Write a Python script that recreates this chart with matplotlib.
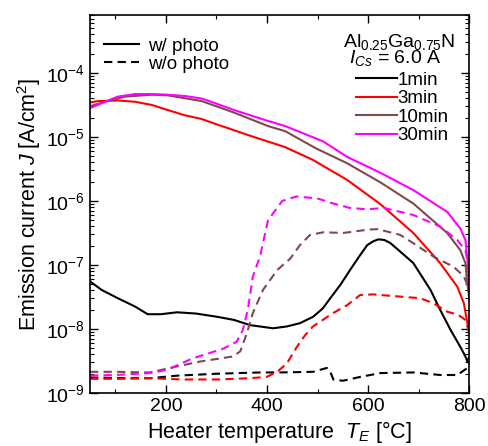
import numpy as np
import matplotlib.pyplot as plt
from matplotlib.lines import Line2D
from matplotlib.ticker import MultipleLocator, LogLocator, NullFormatter

plt.rcParams['font.family'] = ['Liberation Sans', 'DejaVu Sans']
plt.rcParams['mathtext.fontset'] = 'custom'
plt.rcParams['mathtext.rm'] = 'Liberation Sans'
plt.rcParams['mathtext.it'] = 'Liberation Sans:italic'

# w/ photo (log10 J)
t_1 = [50, 54, 73, 105, 139, 164, 190, 222, 260, 301, 335, 366, 412, 440, 465, 491, 510, 525, 545, 564, 581, 598, 610, 620, 632, 644, 663, 689, 723, 742, 763, 782, 792, 796, 800]
j_1 = [-7.25, -7.28, -7.39, -7.52, -7.65, -7.77, -7.77, -7.74, -7.76, -7.81, -7.86, -7.94, -7.99, -7.96, -7.91, -7.81, -7.68, -7.52, -7.31, -7.08, -6.88, -6.69, -6.63, -6.60, -6.61, -6.66, -6.79, -6.97, -7.39, -7.70, -8.02, -8.28, -8.43, -8.51, -8.43]

t_3 = [50, 66, 105, 139, 172, 204, 237, 271, 303, 370, 436, 491, 558, 624, 689, 742, 776, 789, 796, 800]
j_3 = [-4.46, -4.44, -4.43, -4.45, -4.50, -4.58, -4.66, -4.72, -4.81, -4.99, -5.16, -5.36, -5.67, -6.05, -6.50, -6.97, -7.34, -7.60, -7.91, -8.07]

t_10 = [50, 80, 119, 172, 204, 271, 335, 402, 436, 497, 558, 624, 689, 756, 782, 792, 796, 800]
j_10 = [-4.52, -4.45, -4.37, -4.34, -4.35, -4.44, -4.62, -4.83, -4.91, -5.18, -5.41, -5.71, -6.04, -6.50, -6.77, -6.97, -7.29, -7.55]

t_30 = [50, 80, 105, 139, 172, 204, 237, 271, 293, 335, 402, 436, 511, 558, 624, 689, 756, 782, 792, 796, 800]
j_30 = [-4.55, -4.45, -4.37, -4.33, -4.33, -4.34, -4.36, -4.40, -4.46, -4.58, -4.75, -4.83, -5.07, -5.31, -5.56, -5.83, -6.17, -6.43, -6.61, -6.92, -7.39]

# w/o photo (log10 J)
td_1 = [50, 120, 168, 222, 301, 386, 426, 491, 518, 524, 531, 550, 584, 624, 689, 743, 776, 796, 800]
jd_1 = [-8.76, -8.77, -8.77, -8.73, -8.70, -8.68, -8.68, -8.67, -8.61, -8.65, -8.79, -8.81, -8.75, -8.69, -8.68, -8.72, -8.72, -8.61, -8.53]

td_3 = [50, 100, 168, 234, 303, 366, 399, 420, 439, 459, 475, 491, 531, 558, 584, 610, 624, 703, 729, 756, 778, 792, 800]
jd_3 = [-8.78, -8.78, -8.77, -8.79, -8.79, -8.77, -8.75, -8.67, -8.54, -8.28, -8.10, -7.96, -7.75, -7.63, -7.47, -7.46, -7.47, -7.52, -7.60, -7.73, -7.78, -7.86, -8.07]

td_10 = [50, 100, 168, 208, 267, 333, 347, 360, 372, 392, 420, 446, 465, 485, 511, 551, 598, 618, 663, 689, 729, 769, 789, 800]
jd_10 = [-8.67, -8.67, -8.68, -8.61, -8.51, -8.43, -8.35, -8.07, -7.75, -7.39, -7.08, -6.90, -6.69, -6.53, -6.49, -6.50, -6.45, -6.44, -6.53, -6.66, -6.87, -7.03, -7.18, -7.39]

td_30 = [50, 100, 168, 202, 253, 313, 340, 352, 362, 372, 386, 402, 430, 458, 499, 531, 564, 598, 631, 663, 689, 742, 776, 792, 800]
jd_30 = [-8.73, -8.72, -8.69, -8.64, -8.46, -8.31, -8.20, -8.02, -7.70, -7.18, -6.87, -6.30, -6.00, -5.93, -5.96, -6.04, -6.11, -6.13, -6.11, -6.17, -6.22, -6.40, -6.61, -6.77, -7.10]

colors = ['black', '#ff0000', '#7f4a4a', '#ff00ff']
labels = ['1min', '3min', '10min', '30min']
solid = [(t_1, j_1), (t_3, j_3), (t_10, j_10), (t_30, j_30)]
dashed = [(td_1, jd_1), (td_3, jd_3), (td_10, jd_10), (td_30, jd_30)]

fig = plt.figure(figsize=(4.89, 4.46), dpi=100)
ax = fig.add_axes([0.184, 0.119, 0.776, 0.847])

handles = []
for (x, y), c, lab in zip(solid, colors, labels):
    h, = ax.plot(x, 10**np.array(y), color=c, lw=1.5, label=lab)
    handles.append(h)
for (x, y), c in zip(dashed, colors):
    ax.plot(x, 10**np.array(y), color=c, lw=1.5, ls=(0, (4, 2.5)))

ax.set_yscale('log')
ax.set_xlim(50, 800)
ax.set_ylim(1e-9, 8e-4)
ax.xaxis.set_major_locator(MultipleLocator(200))
ax.xaxis.set_minor_locator(MultipleLocator(100))
ax.yaxis.set_major_locator(LogLocator(base=10, numticks=20))
ax.yaxis.set_minor_locator(LogLocator(base=10, subs=np.arange(2, 10), numticks=20))
ax.yaxis.set_minor_formatter(NullFormatter())
ax.tick_params(which='both', direction='in', top=True, right=True, labelsize=14)
ax.tick_params(which='major', length=6, width=1)
ax.tick_params(which='minor', length=3, width=0.8)
for s in ax.spines.values():
    s.set_linewidth(1.2)

ax.set_xlabel('Heater temperature  $T_E$ [°C]', fontsize=15.5, labelpad=3)
ax.set_ylabel('Emission current $J$ [A/cm$^2$]', fontsize=15.5, labelpad=2)

leg1 = ax.legend(handles=[Line2D([], [], color='black', lw=1.5),
                          Line2D([], [], color='black', lw=1.5, ls=(0, (4, 2.5)))],
                 labels=['w/ photo', 'w/o photo'], loc='upper left', frameon=False,
                 fontsize=13.5, handlelength=1.9, handletextpad=0.45, labelspacing=0.05,
                 borderpad=0, borderaxespad=0, bbox_to_anchor=(0.036, 0.94))
ax.add_artist(leg1)
leg2 = ax.legend(handles=handles, loc='upper right', frameon=False, fontsize=13.5,
                 handlelength=2.2, handletextpad=0.0, labelspacing=0.08,
                 borderpad=0, borderaxespad=0, bbox_to_anchor=(0.945, 0.851))

ax.text(0.963, 0.929, 'Al$_{0.25}$Ga$_{0.75}$N', transform=ax.transAxes,
        ha='right', va='center', fontsize=14)
ax.text(0.926, 0.886, '$I_{Cs}$ = 6.0 A', transform=ax.transAxes,
        ha='right', va='center', fontsize=14)

fig.savefig('out.png', dpi=100)
